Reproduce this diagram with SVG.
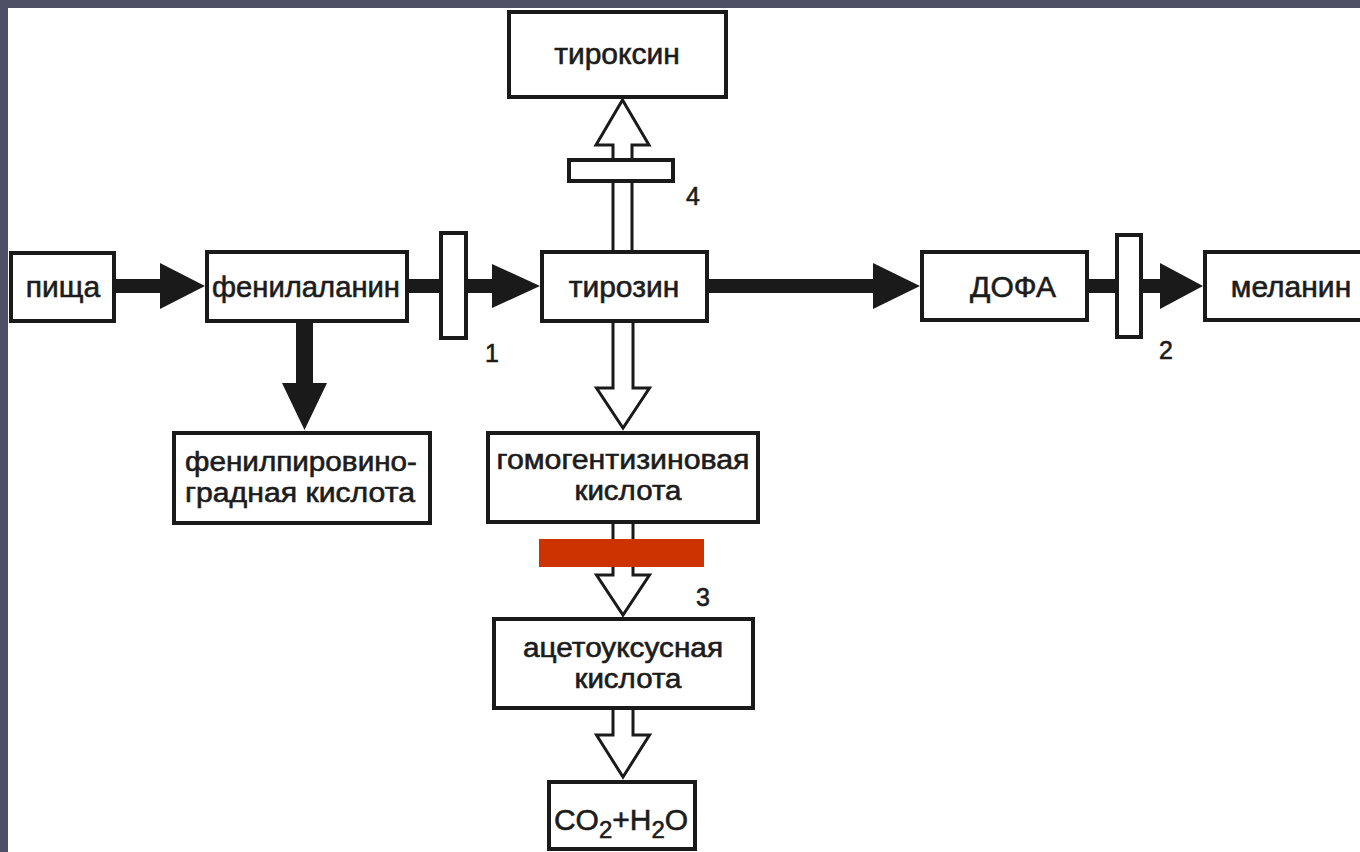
<svg xmlns="http://www.w3.org/2000/svg" width="1360" height="852" viewBox="0 0 1360 852">
<defs>
<style>
.box{fill:#fff;stroke:#1a1a1a;stroke-width:4}
.enz{fill:#fff;stroke:#1a1a1a;stroke-width:4}
.solid{fill:#1a1a1a;stroke:none}
.hollow{fill:#fff;stroke:#1a1a1a;stroke-width:3;stroke-linejoin:miter}
.t{font-family:"Liberation Sans",Arial,sans-serif;font-size:30px;fill:#1c1c1c;stroke:#1c1c1c;stroke-width:0.6;text-anchor:middle}
.t2{font-family:"Liberation Sans",Arial,sans-serif;font-size:27px;fill:#1c1c1c;stroke:#1c1c1c;stroke-width:0.6;text-anchor:middle}
.n{font-family:"Liberation Sans",Arial,sans-serif;font-size:25px;fill:#1c1c1c;stroke:#1c1c1c;stroke-width:0.6}
</style>
</defs>
<rect x="0" y="0" width="1360" height="852" fill="#4e5165"/>
<rect x="8" y="8" width="1352" height="844" fill="#ffffff"/>

<g id="connectors">
<polygon class="solid" points="114,279 160,279 160,263 205,286 160,309 160,293 114,293"/>
<polygon class="solid" points="407,279 492,279 492,264 540,286 492,308 492,293 407,293"/>
<polygon class="solid" points="707,279 873,279 873,263 920,286 873,309 873,293 707,293"/>
<polygon class="solid" points="1087,279 1160,279 1160,263 1203,286 1160,309 1160,293 1087,293"/>
<polygon class="solid" points="296,320 296,383 282,383 304.5,430 327,383 313,383 313,320"/>
<polygon class="hollow" points="613,252 613,145 596,145 622.5,100 649,145 632,145 632,252"/>
<polygon class="hollow" points="613,321 613,388 596.5,388 623,428 649.5,388 633,388 633,321"/>
<polygon class="hollow" points="613,522 613,575 596.5,575 623,615 649.5,575 633,575 633,522"/>
<polygon class="hollow" points="613,708 613,735 596.5,735 623,777 649.5,735 633,735 633,708"/>
</g>

<g id="node-pishcha">
<rect class="box" x="11" y="253" width="103" height="68"/>
<text class="t" x="63" y="297">пища</text>
</g>
<g id="node-phenylalanine">
<rect class="box" x="207" y="252" width="200" height="69"/>
<text class="t" x="306" y="297" textLength="188" lengthAdjust="spacingAndGlyphs">фенилаланин</text>
</g>
<g id="node-tyrosine">
<rect class="box" x="542" y="252" width="165" height="69"/>
<text class="t" x="624" y="297">тирозин</text>
</g>
<g id="node-dopa">
<rect class="box" x="922" y="252" width="165" height="68"/>
<text class="t" x="1013" y="297">ДОФА</text>
</g>
<g id="node-melanin">
<rect class="box" x="1205" y="252" width="200" height="68"/>
<text class="t" x="1291" y="297">меланин</text>
</g>
<g id="node-thyroxine">
<rect class="box" x="509" y="12" width="217" height="85"/>
<text class="t" x="617" y="64">тироксин</text>
</g>
<g id="node-phenylpyruvic">
<rect class="box" x="174" y="433" width="256" height="90"/>
<text class="t2" x="301" y="471" textLength="232" lengthAdjust="spacingAndGlyphs">фенилпировино-</text>
<text class="t2" x="300" y="501.5" textLength="230" lengthAdjust="spacingAndGlyphs">градная кислота</text>
</g>
<g id="node-homogentisic">
<rect class="box" x="488" y="433" width="270" height="89"/>
<text class="t2" x="623" y="469" textLength="253" lengthAdjust="spacingAndGlyphs">гомогентизиновая</text>
<text class="t2" x="628" y="499.5" textLength="107" lengthAdjust="spacingAndGlyphs">кислота</text>
</g>
<g id="node-acetoacetic">
<rect class="box" x="494" y="619" width="259" height="89"/>
<text class="t2" x="623" y="657" textLength="200" lengthAdjust="spacingAndGlyphs">ацетоуксусная</text>
<text class="t2" x="628" y="687.5" textLength="107" lengthAdjust="spacingAndGlyphs">кислота</text>
</g>
<g id="node-co2h2o">
<rect class="box" x="549" y="782" width="146" height="67"/>
<text class="t" x="621" y="830">CO<tspan font-size="24" dy="8">2</tspan><tspan dy="-8">+H</tspan><tspan font-size="24" dy="8">2</tspan><tspan dy="-8">O</tspan></text>
</g>

<g id="enzyme-1">
<rect class="enz" x="441" y="233" width="25" height="105"/>
<text class="n" x="485" y="362">1</text>
</g>
<g id="enzyme-2">
<rect class="enz" x="1117" y="235" width="24" height="102"/>
<text class="n" x="1159" y="359">2</text>
</g>
<g id="enzyme-3">
<text class="n" x="696" y="606">3</text>
</g>
<g id="enzyme-4">
<rect class="enz" x="569" y="160" width="104" height="21"/>
<text class="n" x="686" y="205">4</text>
</g>

<rect id="red-cover" x="539" y="539" width="165" height="28" fill="#cc3300"/>
</svg>
